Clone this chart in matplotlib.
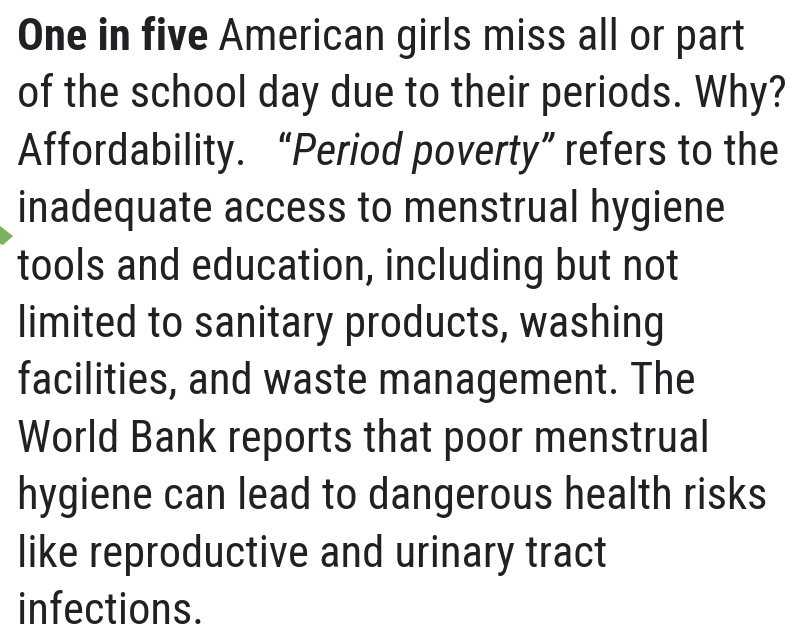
import matplotlib
matplotlib.use("Agg")
import matplotlib.pyplot as plt
from matplotlib.patches import Polygon
from matplotlib import font_manager

lines = [
    [("One in five", "bold", "normal"), (" American girls miss all or part", "normal", "normal")],
    [("of the school day due to their periods. Why?", "normal", "normal")],
    [("Affordability.   \u201c", "normal", "normal"), ("Period poverty\u201d", "normal", "italic"), (" refers to the", "normal", "normal")],
    [("inadequate access to menstrual hygiene", "normal", "normal")],
    [("tools and education, including but not", "normal", "normal")],
    [("limited to sanitary products, washing", "normal", "normal")],
    [("facilities, and waste management. The", "normal", "normal")],
    [("World Bank reports that poor menstrual", "normal", "normal")],
    [("hygiene can lead to dangerous health risks", "normal", "normal")],
    [("like reproductive and urinary tract", "normal", "normal")],
    [("infections.", "normal", "normal")],
]

names = sorted({f.name for f in font_manager.fontManager.ttflist})
cands = ["Roboto Condensed", "Open Sans Condensed", "Liberation Sans Narrow", "DejaVu Sans Condensed", "Roboto"]
fam = next(c for c in cands if c in names)

W, H = 801, 628
fig = plt.figure(figsize=(W / 100, H / 100), dpi=100)
fig.patch.set_facecolor("white")
r = fig.canvas.get_renderer()

color = "#202124"
x0 = 17
base0 = 50
pitch = 57.4


def draw_line(parts, y, size):
    x = x0
    arts = []
    for s, wt, st in parts:
        t = fig.text(x / W, y / H, s, fontsize=size, family=fam, fontweight=wt,
                     fontstyle=st, color=color, va="baseline", ha="left")
        arts.append(t)
        x = t.get_window_extent(r).x1
    return x, arts


# find the font size so the widest line ends near x = 790
maxw = 0
for parts in lines:
    xe, arts = draw_line(parts, 0, 40)
    maxw = max(maxw, xe - x0)
    for a in arts:
        a.remove()
size = 40 * 771 / maxw

for i, parts in enumerate(lines):
    draw_line(parts, H - (base0 + i * pitch), size)

# small green leaf fragment at left edge
leaf = Polygon([[0, H - 226], [13, H - 236], [3, H - 245], [0, H - 244]],
               closed=True, transform=None, facecolor="#5a9e3a", edgecolor="none", alpha=0.8)
fig.patches.append(leaf)

fig.savefig("out.png", dpi=100, facecolor="white")
